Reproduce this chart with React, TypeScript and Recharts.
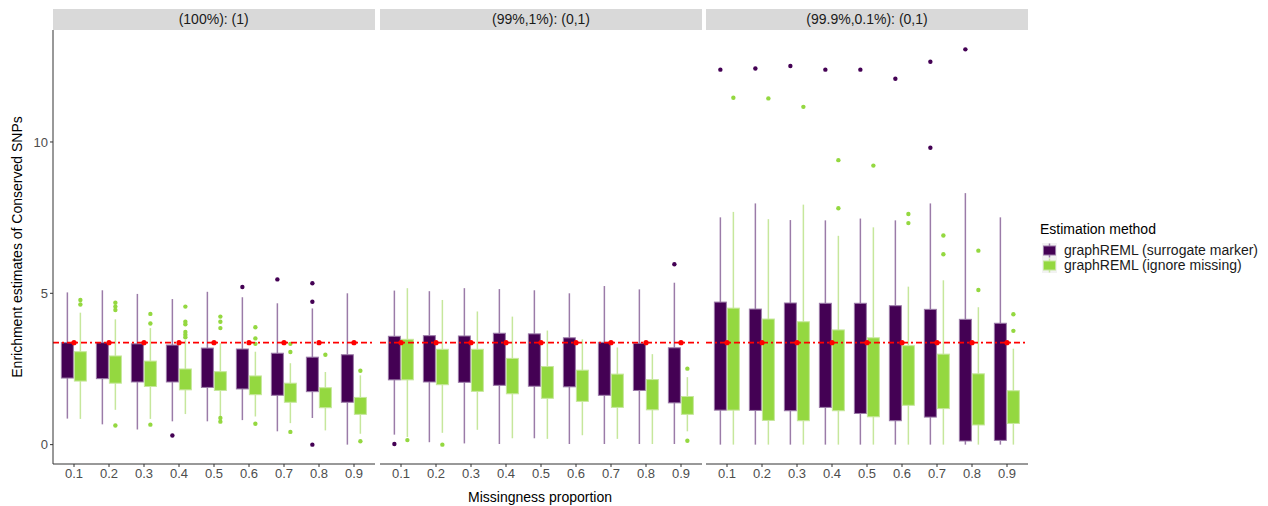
import React from 'react';
import { ComposedChart, Bar, Line, XAxis, YAxis, ReferenceLine } from 'recharts';

const categories = ['0.1', '0.2', '0.3', '0.4', '0.5', '0.6', '0.7', '0.8', '0.9'];
const strips = ['(100%): (1)', '(99%,1%): (0,1)', '(99.9%,0.1%): (0,1)'];
const methods = ['graphREML (surrogate marker)', 'graphREML (ignore missing)'];
const trueEnrichment = 3.37;
const yTicks = [0, 5, 10];

// each box: [lower whisker, Q1, Q3, upper whisker]
const p1Surrogate = [
  [0.86, 2.2, 3.37, 5.03],
  [0.67, 2.18, 3.37, 5.1],
  [0.5, 2.07, 3.33, 4.98],
  [0.77, 2.07, 3.29, 4.81],
  [0.77, 1.89, 3.19, 5.05],
  [0.81, 1.84, 3.16, 4.87],
  [0.44, 1.63, 3.02, 4.67],
  [0.88, 1.75, 2.89, 4.5],
  [0.0, 1.4, 2.97, 5.0],
];
const p1SurrogateOut = [[], [], [], [0.3], [], [5.21], [5.46], [5.33, 4.72, 0.0], []];
const p1Ignore = [
  [0.85, 2.1, 3.07, 4.36],
  [1.15, 2.03, 2.93, 4.14],
  [0.85, 1.92, 2.76, 3.85],
  [1.01, 1.81, 2.5, 3.45],
  [0.93, 1.79, 2.41, 3.35],
  [0.93, 1.65, 2.27, 3.07],
  [0.71, 1.4, 2.03, 2.69],
  [0.47, 1.22, 1.88, 2.4],
  [0.36, 1.0, 1.56, 2.29],
];
const p1IgnoreOut = [
  [4.78, 4.63],
  [4.69, 4.56, 4.45, 0.63],
  [4.32, 4.0, 0.66],
  [4.56, 4.06, 3.98, 3.72, 3.63, 3.55],
  [4.23, 4.06, 3.85, 0.88, 0.76],
  [3.88, 3.51, 3.33, 0.69],
  [3.33, 3.06, 0.42],
  [2.97],
  [2.44, 0.11],
];

const p2Surrogate = [
  [0.33, 2.14, 3.58, 5.09],
  [0.08, 2.07, 3.6, 5.07],
  [0.04, 2.06, 3.59, 5.17],
  [0.02, 1.96, 3.68, 5.14],
  [0.21, 1.93, 3.66, 5.1],
  [0.02, 1.91, 3.53, 5.0],
  [0.02, 1.63, 3.38, 5.24],
  [0.02, 1.79, 3.35, 5.13],
  [0.02, 1.38, 3.2, 5.35],
];
const p2SurrogateOut = [[0.02], [], [], [], [], [], [], [], [5.96]];
const p2Ignore = [
  [0.25, 2.14, 3.48, 5.17],
  [0.39, 1.98, 3.15, 4.78],
  [0.49, 1.76, 3.15, 4.4],
  [0.21, 1.68, 2.85, 4.23],
  [0.19, 1.53, 2.58, 3.77],
  [0.31, 1.43, 2.46, 3.48],
  [0.19, 1.23, 2.33, 3.21],
  [0.02, 1.15, 2.15, 2.99],
  [0.44, 1.0, 1.59, 2.23],
];
const p2IgnoreOut = [[0.15], [0.0], [], [], [], [], [], [], [2.51, 0.13]];

const p3Surrogate = [
  [0.0, 1.14, 4.71, 7.51],
  [0.0, 1.13, 4.48, 7.97],
  [0.0, 1.12, 4.68, 7.42],
  [0.0, 1.23, 4.67, 7.41],
  [0.0, 1.03, 4.67, 7.47],
  [0.0, 0.79, 4.59, 7.41],
  [0.0, 0.91, 4.47, 7.97],
  [0.0, 0.12, 4.14, 8.31],
  [0.0, 0.14, 4.01, 7.51],
];
const p3SurrogateOut = [[12.39], [12.43], [12.51], [12.39], [12.39], [12.09], [12.65, 9.81], [13.06], []];
const p3Ignore = [
  [0.0, 1.14, 4.51, 7.69],
  [0.0, 0.8, 4.15, 7.45],
  [0.0, 0.79, 4.06, 7.93],
  [0.0, 1.12, 3.79, 6.9],
  [0.0, 0.92, 3.53, 7.18],
  [0.0, 1.3, 3.27, 5.22],
  [0.0, 1.19, 2.99, 5.43],
  [0.0, 0.65, 2.34, 4.54],
  [0.0, 0.7, 1.78, 3.17],
];
const p3IgnoreOut = [[11.46], [11.44], [11.16], [9.4, 7.81], [9.22], [7.62, 7.32], [6.91, 6.29], [6.41, 5.11], [4.31, 3.76]];

const FONT = '"Liberation Sans", Arial, Helvetica, sans-serif';
const colors = { s: '#440154', g: '#94D840' };
const lightColors = { s: '#9b7ba8', g: '#c6e79c' };
const yDomain = [-0.64, 13.7];

const buildRows = (sBox, sOut, gBox, gOut) =>
  categories.map((cat, i) => ({
    cat,
    sBox: sBox[i],
    sOut: sOut[i],
    gBox: gBox[i],
    gOut: gOut[i],
    sRange: [Math.min(sBox[i][0], ...sOut[i]), Math.max(sBox[i][3], ...sOut[i])],
    gRange: [Math.min(gBox[i][0], ...gOut[i]), Math.max(gBox[i][3], ...gOut[i])],
    truth: trueEnrichment,
  }));

const panels = [
  { strip: strips[0], left: 52.7, rows: buildRows(p1Surrogate, p1SurrogateOut, p1Ignore, p1IgnoreOut) },
  { strip: strips[1], left: 380, rows: buildRows(p2Surrogate, p2SurrogateOut, p2Ignore, p2IgnoreOut) },
  { strip: strips[2], left: 706, rows: buildRows(p3Surrogate, p3SurrogateOut, p3Ignore, p3IgnoreOut) },
];

// the bar spans the full range of the box's values; positions inside it follow the linear y scale
const BoxShape = (props: any) => {
  const { x, y, width, height, payload, m } = props;
  const box = payload[m + 'Box'];
  const out = payload[m + 'Out'];
  const [lo, hi] = payload[m + 'Range'];
  const py = (v: number) => y + (height * (hi - v)) / (hi - lo);
  const cx = x + width / 2;
  return (
    <g>
      <line x1={cx} x2={cx} y1={py(box[3])} y2={py(box[2])} stroke={lightColors[m]} strokeWidth={1.5} />
      <line x1={cx} x2={cx} y1={py(box[1])} y2={py(box[0])} stroke={lightColors[m]} strokeWidth={1.5} />
      <rect
        x={x + 0.5}
        y={py(box[2])}
        width={width - 1}
        height={py(box[1]) - py(box[2])}
        fill={colors[m]}
        stroke={lightColors[m]}
        strokeWidth={1}
      />
      {out.map((v: number, k: number) => (
        <circle key={k} cx={cx} cy={py(v)} r={2.2} fill={colors[m]} />
      ))}
    </g>
  );
};

const Panel = ({ rows, left, strip, showY }: any) => {
  const yw = showY ? 40 : 0;
  return (
    <>
      <div
        style={{
          position: 'absolute',
          left: left,
          top: 9,
          width: 322,
          height: 21,
          background: '#d9d9d9',
          color: '#1a1a1a',
          fontSize: 14,
          lineHeight: '21px',
          textAlign: 'center',
        }}
      >
        {strip}
      </div>
      <div style={{ position: 'absolute', left: left - yw, top: 30 }}>
        <ComposedChart
          width={322 + yw}
          height={464}
          data={rows}
          margin={{ top: 0, right: 0, bottom: 0, left: 0 }}
          barCategoryGap="12.5%"
          barGap={0}
        >
          <XAxis
            dataKey="cat"
            height={30}
            interval={0}
            padding={{ left: 3.5, right: 3.5 }}
            tickSize={3}
            tickMargin={2}
            axisLine={{ stroke: '#333333' }}
            tickLine={{ stroke: '#333333' }}
            tick={{ fill: '#4d4d4d', fontSize: 13, fontFamily: FONT }}
          />
          <YAxis
            type="number"
            domain={yDomain}
            ticks={yTicks}
            hide={!showY}
            width={yw}
            tickSize={3}
            tickMargin={2}
            axisLine={{ stroke: '#333333' }}
            tickLine={{ stroke: '#333333' }}
            tick={{ fill: '#4d4d4d', fontSize: 13, fontFamily: FONT }}
          />
          <Bar dataKey="sRange" isAnimationActive={false} shape={(p: any) => <BoxShape {...p} m="s" />} />
          <Bar dataKey="gRange" isAnimationActive={false} shape={(p: any) => <BoxShape {...p} m="g" />} />
          <ReferenceLine y={trueEnrichment} stroke="#ff0000" strokeWidth={1.6} strokeDasharray="6 3 2 3" />
          <Line
            dataKey="truth"
            stroke="none"
            dot={{ r: 2.6, fill: '#ff0000', stroke: 'none' }}
            activeDot={false}
            isAnimationActive={false}
          />
        </ComposedChart>
      </div>
    </>
  );
};

const LegendKey = ({ top, m, label }: any) => (
  <>
    <svg style={{ position: 'absolute', left: 1042, top }} width={15} height={15}>
      <rect x={0} y={0} width={15} height={15} fill="#f2f2f2" />
      <line x1={7.5} x2={7.5} y1={0.5} y2={14.5} stroke={lightColors[m]} strokeWidth={1.5} />
      <rect x={1.5} y={3} width={12} height={9} fill={colors[m]} stroke={lightColors[m]} strokeWidth={1} />
    </svg>
    <div style={{ position: 'absolute', left: 1064, top: top - 1, fontSize: 14, lineHeight: '17px', color: '#1a1a1a' }}>
      {label}
    </div>
  </>
);

export default function App() {
  return (
    <div style={{ position: 'absolute', left: 0, top: 0, width: 1268, height: 506, fontFamily: FONT, background: '#fff' }}>
      {panels.map((p, i) => (
        <Panel key={i} rows={p.rows} left={p.left} strip={p.strip} showY={i === 0} />
      ))}
      <div
        style={{
          position: 'absolute',
          left: 17,
          top: 247,
          transform: 'translate(-50%, -50%) rotate(-90deg)',
          whiteSpace: 'nowrap',
          fontSize: 14,
          color: '#000',
        }}
      >
        Enrichment estimates of Conserved SNPs
      </div>
      <div
        style={{
          position: 'absolute',
          left: 540,
          top: 497,
          transform: 'translate(-50%, -50%)',
          whiteSpace: 'nowrap',
          fontSize: 14,
          color: '#000',
        }}
      >
        Missingness proportion
      </div>
      <div style={{ position: 'absolute', left: 1040, top: 221, fontSize: 14, lineHeight: '17px', color: '#000' }}>
        Estimation method
      </div>
      <LegendKey top={243} m="s" label={methods[0]} />
      <LegendKey top={258} m="g" label={methods[1]} />
    </div>
  );
}
